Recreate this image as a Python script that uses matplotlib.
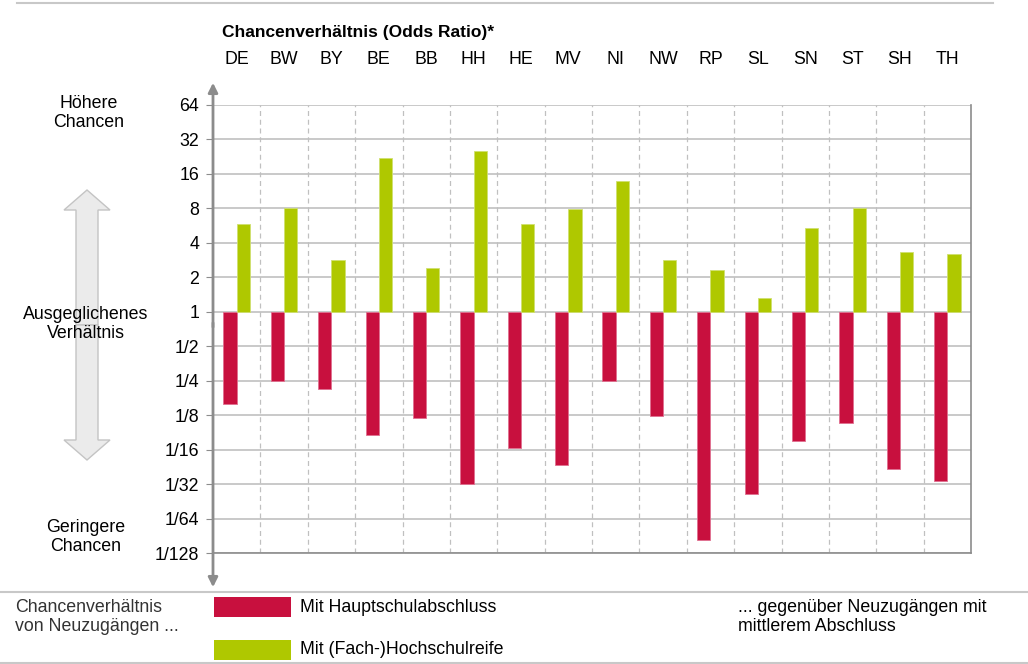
import numpy as np
import matplotlib.pyplot as plt
from matplotlib.patches import FancyArrow, Rectangle
from matplotlib.lines import Line2D

plt.rcParams['font.family'] = ['Liberation Sans', 'DejaVu Sans']

# data
laender = ["DE", "BW", "BY", "BE", "BB", "HH", "HE", "MV", "NI", "NW",
           "RP", "SL", "SN", "ST", "SH", "TH"]
hauptschule = [0.157, 0.25, 0.213, 0.084, 0.119, 0.031, 0.064, 0.046, 0.25,
               0.124, 0.0102, 0.0254, 0.075, 0.107, 0.0427, 0.0335]
hochschulreife = [5.86, 8.0, 2.84, 22.0, 2.42, 25.4, 5.86, 7.9, 13.9, 2.84,
                  2.33, 1.33, 5.4, 8.0, 3.34, 3.2]
tick_vals = [2.0 ** k for k in range(6, -8, -1)]
tick_labels = ["64", "32", "16", "8", "4", "2", "1", "1/2", "1/4", "1/8",
               "1/16", "1/32", "1/64", "1/128"]

RED = "#c8103e"
GREEN = "#afc800"
GRID = "#c0c0c0"
AX = "#8c8c8c"
FS = 12.8

W, H = 1028, 664
fig = plt.figure(figsize=(W / 100, H / 100), dpi=100)

def fx(px):
    return px / W

def fy(py):
    return 1 - py / H

ax = fig.add_axes([fx(213), fy(553), fx(971) - fx(213), fy(105) - fy(553)])
ax.set_yscale("log", base=2)
ax.set_ylim(1 / 128, 64)
n = len(laender)
ax.set_xlim(-0.5, n - 0.5)

x = np.arange(n)
bw = 0.28
ax.bar(x - bw / 2, [h - 1 for h in hauptschule], bottom=1, width=bw,
       color=RED, edgecolor="#e07090", linewidth=0.6, zorder=3)
ax.bar(x + bw / 2, [g - 1 for g in hochschulreife], bottom=1, width=bw,
       color=GREEN, edgecolor="#d0e070", linewidth=0.6, zorder=3)

ax.set_yticks(tick_vals)
ax.set_yticklabels(tick_labels)
ax.yaxis.set_minor_locator(plt.NullLocator())
ax.tick_params(axis="y", length=5, color=AX, labelsize=FS, pad=5)
ax.set_xticks(x)
ax.set_xticklabels(laender)
ax.xaxis.tick_top()
ax.tick_params(axis="x", length=0, labelsize=FS, pad=27)

for v in tick_vals:
    ax.axhline(v, color=GRID, lw=1.2, zorder=1)
for b in np.arange(0.5, n - 0.5, 1):
    ax.axvline(b, color=GRID, lw=0.9, ls=(0, (4, 3)), zorder=1)

ax.spines["top"].set_visible(False)
ax.spines["left"].set_visible(False)
ax.spines["right"].set_color(AX)
ax.spines["bottom"].set_color(AX)
ax.spines["right"].set_linewidth(1.2)
ax.spines["bottom"].set_linewidth(1.2)

# overlay for arrows/lines in figure pixel coords
ov = fig.add_axes([0, 0, 1, 1], zorder=5)
ov.set_xlim(0, W)
ov.set_ylim(H, 0)
ov.axis("off")
ov.patch.set_alpha(0)

# vertical y axis arrow
ov.annotate("", xy=(213, 80), xytext=(213, 330),
            arrowprops=dict(arrowstyle="-|>", color=AX, lw=2, mutation_scale=14))
ov.annotate("", xy=(213, 590), xytext=(213, 320),
            arrowprops=dict(arrowstyle="-|>", color=AX, lw=2, mutation_scale=14))

# big double arrow on the left
ov.add_patch(FancyArrow(87, 325, 0, -135, width=22, head_width=46,
                        head_length=20, length_includes_head=True,
                        facecolor="#ebebeb", edgecolor="#c4c4c4", lw=1))
ov.add_patch(FancyArrow(87, 325, 0, 135, width=22, head_width=46,
                        head_length=20, length_includes_head=True,
                        facecolor="#ebebeb", edgecolor="#c4c4c4", lw=1))

# horizontal separator lines
for y0, x0, x1 in [(3, 17, 993), (592, 0, 1028), (663, 0, 1028)]:
    ov.add_line(Line2D([x0, x1], [y0, y0], color="#c8c8c8", lw=1.5))

# texts
ov.text(222, 32, "Chancenverhältnis (Odds Ratio)*", fontsize=12.5,
        fontweight="bold", va="center", ha="left")
ov.text(89, 113, "Höhere\nChancen", fontsize=FS, ha="center", va="center",
        linespacing=1.2)
ov.text(86, 324, "Ausgeglichenes\nVerhältnis", fontsize=FS, ha="center",
        va="center", linespacing=1.2)
ov.text(86, 537, "Geringere\nChancen", fontsize=FS, ha="center",
        va="center", linespacing=1.2)
ov.text(15, 617, "Chancenverhältnis\nvon Neuzugängen ...", fontsize=FS,
        ha="left", va="center", color="#333333", linespacing=1.2)

ov.add_patch(Rectangle((214, 597), 77, 20, facecolor=RED, edgecolor="none"))
ov.text(300, 607, "Mit Hauptschulabschluss", fontsize=FS, va="center")
ov.add_patch(Rectangle((214, 640), 77, 20, facecolor=GREEN, edgecolor="none"))
ov.text(300, 650, "Mit (Fach-)Hochschulreife", fontsize=FS, va="center")
ov.text(738, 617, "... gegenüber Neuzugängen mit\nmittlerem Abschluss",
        fontsize=FS, va="center", ha="left", linespacing=1.2)

fig.savefig("out.png", dpi=100)
